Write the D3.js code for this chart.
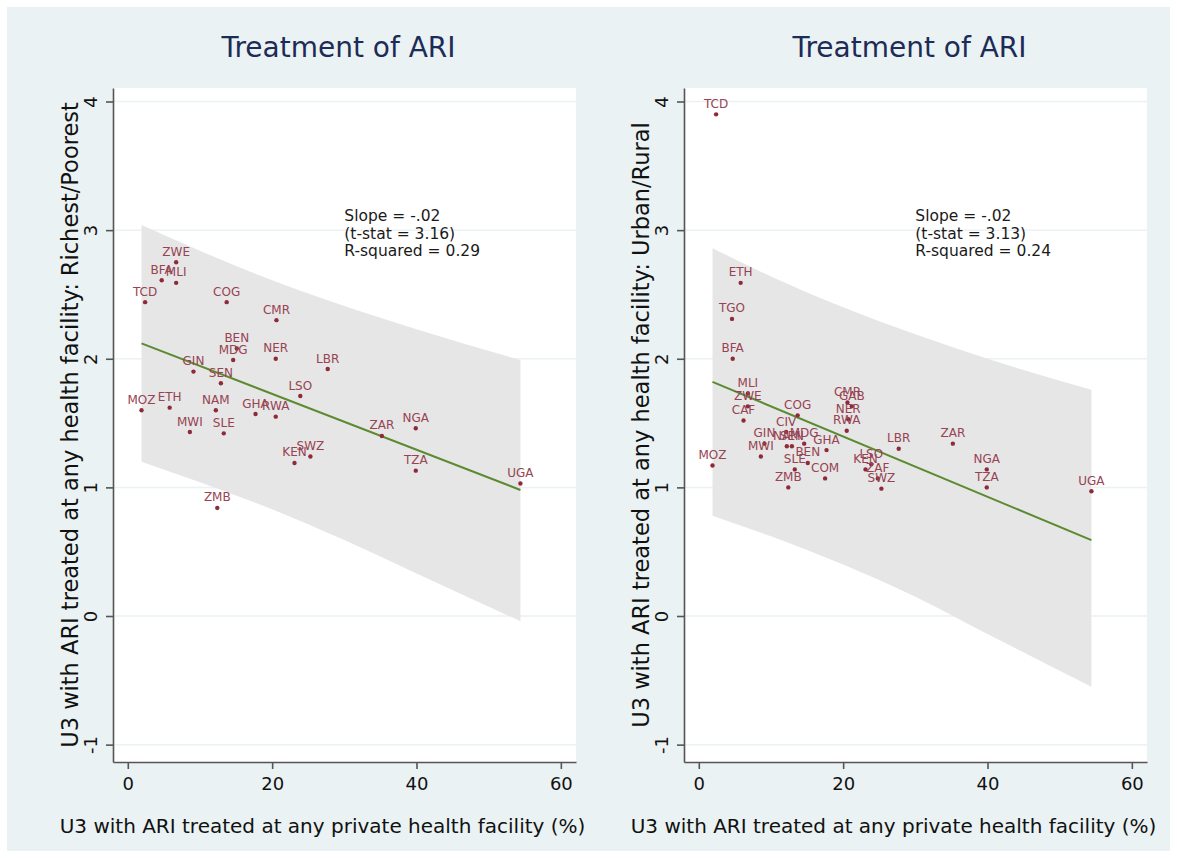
<!DOCTYPE html>
<html>
<head>
<meta charset="utf-8">
<script src="https://cdn.jsdelivr.net/npm/d3@7"></script>
<style>
  body { margin: 0; background: #fff; }
  text { font-family: "DejaVu Sans", Verdana, sans-serif; }
</style>
</head>
<body>
<svg id="chart" width="1177" height="858"></svg>
<script>
// values
var xTicks = [0, 20, 40, 60];
var yTicks = [-1, 0, 1, 2, 3, 4];

var leftCodes = ["TCD", "BFA", "ZWE", "MLI", "COG", "CMR", "BEN", "MDG", "NER", "GIN", "SEN", "LBR", "LSO",
    "MOZ", "ETH", "NAM", "MWI", "SLE", "GHA", "RWA", "ZAR", "NGA", "SWZ", "KEN", "TZA", "UGA", "ZMB"];
var leftX = [2.4, 4.7, 6.7, 6.7, 13.7, 20.6, 15.1, 14.6, 20.5, 9.1, 12.9, 27.7, 23.9,
    1.9, 5.8, 12.2, 8.6, 13.3, 17.7, 20.5, 35.2, 39.9, 25.3, 23.1, 39.9, 54.4, 12.4];
var leftY = [2.44, 2.61, 2.75, 2.59, 2.44, 2.30, 2.08, 1.99, 2.00, 1.90, 1.81, 1.92, 1.71,
    1.60, 1.62, 1.60, 1.43, 1.42, 1.57, 1.55, 1.40, 1.46, 1.24, 1.19, 1.13, 1.03, 0.84];

var rightCodes = ["TCD", "ETH", "TGO", "BFA", "MLI", "ZWE", "CAF", "COG", "CIV", "GIN", "NAM", "SEN", "MDG",
    "MWI", "GHA", "BEN", "SLE", "ZMB", "COM", "MOZ", "CMR", "GAB", "NER", "RWA", "LBR", "ZAR", "NGA",
    "TZA", "UGA", "LSO", "KEN", "ZAF", "SWZ"];
var rightX = [2.4, 5.8, 4.6, 4.7, 6.8, 6.8, 6.2, 13.7, 12.1, 9.1, 12.2, 12.9, 14.6,
    8.6, 17.7, 15.1, 13.3, 12.4, 17.5, 1.9, 20.6, 21.2, 20.7, 20.5, 27.7, 35.2, 39.9,
    39.9, 54.4, 23.9, 23.1, 24.8, 25.3];
var rightY = [3.90, 2.59, 2.31, 2.00, 1.73, 1.63, 1.52, 1.56, 1.43, 1.34, 1.32, 1.32, 1.34,
    1.24, 1.29, 1.19, 1.14, 1.00, 1.07, 1.17, 1.66, 1.63, 1.53, 1.44, 1.30, 1.34, 1.14,
    1.00, 0.97, 1.18, 1.14, 1.07, 0.99];

// fitted line and prediction band
var fitX = [1.9, 54.4];
var leftFitY = [2.12, 0.98];
var rightFitY = [1.82, 0.59];
var bandX = [1.9, 10, 20, 30, 40, 54.4];
var leftUpper = [3.04, 2.84, 2.61, 2.41, 2.23, 1.99];
var leftLower = [1.20, 1.04, 0.83, 0.59, 0.33, -0.04];
var rightUpper = [2.86, 2.64, 2.40, 2.19, 2.00, 1.76];
var rightLower = [0.78, 0.62, 0.40, 0.15, -0.14, -0.55];

var leftStats = ["Slope = -.02", "(t-stat = 3.16)", "R-squared = 0.29"];
var rightStats = ["Slope = -.02", "(t-stat = 3.13)", "R-squared = 0.24"];
var statsAt = [30, 3];

var titleText = "Treatment of ARI";
var xTitle = "U3 with ARI treated at any private health facility (%)";
var leftYTitle = "U3 with ARI treated at any health facility: Richest/Poorest";
var rightYTitle = "U3 with ARI treated at any health facility: Urban/Rural";

var svg = d3.select("#chart");

svg.append("rect")
    .attr("x", 7).attr("y", 7)
    .attr("width", 1163).attr("height", 844)
    .attr("fill", "#eaf2f3");

function drawPanel(left, codes, xs, ys, fitY, upper, lower, stats, yTitle) {
    var top = 88, w = 463, h = 674;
    var x = d3.scaleLinear().domain([-2.05, 62.1]).range([left, left + w]);
    var y = d3.scaleLinear().domain([-1.135, 4.105]).range([top + h, top]);

    svg.append("rect")
        .attr("x", left).attr("y", top)
        .attr("width", w).attr("height", h)
        .attr("fill", "#fff");

    svg.append("g").selectAll("line")
        .data(yTicks)
        .enter().append("line")
        .attr("x1", left).attr("x2", left + w)
        .attr("y1", function(d) { return y(d); })
        .attr("y2", function(d) { return y(d); })
        .attr("stroke", "#eaf2f3")
        .attr("stroke-width", 1.5);

    var band = d3.area()
        .x(function(d, i) { return x(bandX[i]); })
        .y0(function(d, i) { return y(lower[i]); })
        .y1(function(d, i) { return y(upper[i]); })
        .curve(d3.curveMonotoneX);
    svg.append("path")
        .attr("d", band(bandX))
        .attr("fill", "#e6e6e6");

    svg.append("line")
        .attr("x1", x(fitX[0])).attr("y1", y(fitY[0]))
        .attr("x2", x(fitX[1])).attr("y2", y(fitY[1]))
        .attr("stroke", "#5b8a30")
        .attr("stroke-width", 2);

    var pts = svg.append("g");
    pts.selectAll("circle")
        .data(codes)
        .enter().append("circle")
        .attr("cx", function(d, i) { return x(xs[i]); })
        .attr("cy", function(d, i) { return y(ys[i]); })
        .attr("r", 2.2)
        .attr("fill", "#8e2a3a");
    pts.selectAll("text")
        .data(codes)
        .enter().append("text")
        .attr("x", function(d, i) { return x(xs[i]); })
        .attr("y", function(d, i) { return y(ys[i]) - 6.5; })
        .attr("text-anchor", "middle")
        .attr("font-size", "12px")
        .attr("fill", "#974352")
        .text(function(d) { return d; });

    var st = svg.append("text")
        .attr("x", x(statsAt[0]))
        .attr("y", y(statsAt[1]) - 9)
        .attr("font-size", "15.5px")
        .attr("fill", "#1a1a1a");
    st.selectAll("tspan")
        .data(stats)
        .enter().append("tspan")
        .attr("x", x(statsAt[0]))
        .attr("dy", function(d, i) { return i === 0 ? 0 : 17.5; })
        .text(function(d) { return d; });

    var yAxis = svg.append("g")
        .attr("transform", "translate(" + left + ",0)")
        .call(d3.axisLeft(y).tickValues(yTicks).tickFormat(function(d) { return String(d); })
            .tickSize(7).tickSizeOuter(0));
    yAxis.selectAll("text")
        .attr("transform", "rotate(-90)")
        .attr("x", 0).attr("y", -22)
        .attr("dy", "0.35em")
        .attr("text-anchor", "middle");

    var xAxis = svg.append("g")
        .attr("transform", "translate(0," + (top + h) + ")")
        .call(d3.axisBottom(x).tickValues(xTicks).tickSize(7).tickPadding(8).tickSizeOuter(0));

    [xAxis, yAxis].forEach(function(a) {
        a.select(".domain").attr("stroke", "#555").attr("stroke-width", 1.6);
        a.selectAll(".tick line").attr("stroke", "#555").attr("stroke-width", 1.6);
        a.selectAll("text")
            .attr("font-size", "18px")
            .attr("font-family", "DejaVu Sans, sans-serif")
            .attr("fill", "#111");
    });

    svg.append("text")
        .attr("x", left + w / 2 - 6)
        .attr("y", 47)
        .attr("dy", "0.35em")
        .attr("text-anchor", "middle")
        .attr("font-size", "28px")
        .attr("fill", "#1d2b57")
        .text(titleText);

    svg.append("text")
        .attr("x", left + w / 2 - 22)
        .attr("y", 826)
        .attr("dy", "0.35em")
        .attr("text-anchor", "middle")
        .attr("font-size", "20px")
        .attr("fill", "#111")
        .text(xTitle);

    svg.append("text")
        .attr("transform", "translate(" + (left - 43) + "," + (top + h / 2) + ") rotate(-90)")
        .attr("dy", "0.35em")
        .attr("text-anchor", "middle")
        .attr("font-size", "22.5px")
        .attr("fill", "#111")
        .text(yTitle);
}

drawPanel(113, leftCodes, leftX, leftY, leftFitY, leftUpper, leftLower, leftStats, leftYTitle);
drawPanel(684, rightCodes, rightX, rightY, rightFitY, rightUpper, rightLower, rightStats, rightYTitle);
</script>
</body>
</html>
